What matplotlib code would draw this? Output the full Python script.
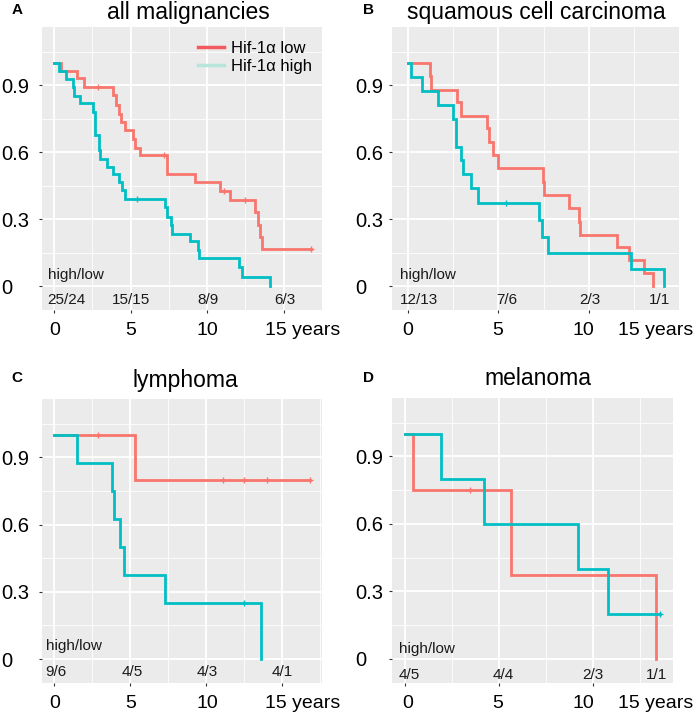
import numpy as np
import matplotlib
matplotlib.use("Agg")
import matplotlib.pyplot as plt
from matplotlib.lines import Line2D

plt.rcParams['font.family'] = ['Liberation Sans', 'DejaVu Sans']

# cores (ggplot)
cor_low = '#F8766D'
cor_high = '#00BFC4'

# ---- A: all malignancies ----
a_low_t = [0.44, 1.50, 1.94, 3.86, 4.01, 4.23, 4.34, 4.62, 5.16, 5.27, 5.60, 7.34, 9.19, 10.83, 11.48, 13.12, 13.33, 13.44, 13.55]
a_low_s = [0.965, 0.93, 0.893, 0.855, 0.81, 0.77, 0.735, 0.70, 0.66, 0.62, 0.585, 0.50, 0.467, 0.427, 0.385, 0.33, 0.273, 0.22, 0.165]
a_low_fim = 16.75
a_low_cens = [2.88, 7.19, 11.09, 12.46, 16.75]
a_high_t = [0.33, 0.76, 1.20, 1.29, 1.68, 2.51, 2.66, 2.92, 2.98, 3.42, 3.86, 4.23, 4.40, 4.62, 7.23, 7.39, 7.60, 7.67, 8.87, 9.41, 9.46, 12.09, 12.24, 14.10]
a_high_s = [0.964, 0.927, 0.89, 0.852, 0.818, 0.78, 0.676, 0.61, 0.57, 0.534, 0.504, 0.467, 0.43, 0.39, 0.355, 0.31, 0.273, 0.233, 0.20, 0.16, 0.124, 0.087, 0.042, 0.0]
a_high_fim = 14.10
a_high_cens = [5.38]
a_risco = ['25/24', '15/15', '8/9', '6/3']
a_risco_x = [0.8, 5.0, 10.07, 15.07]

# ---- B: squamous cell carcinoma ----
b_low_t = [1.20, 1.30, 2.69, 2.93, 4.35, 4.48, 4.72, 5.00, 7.44, 7.54, 8.89, 9.44, 9.50, 11.57, 12.19, 13.06, 13.52]
b_low_s = [0.94, 0.88, 0.825, 0.763, 0.706, 0.646, 0.587, 0.527, 0.467, 0.41, 0.348, 0.288, 0.23, 0.176, 0.116, 0.057, 0.0]
b_low_fim = 13.52
b_low_cens = []
b_high_t = [0.19, 0.80, 1.67, 2.50, 2.65, 2.96, 3.06, 3.46, 3.89, 7.22, 7.41, 7.72, 12.31, 14.17]
b_high_s = [0.936, 0.875, 0.81, 0.75, 0.624, 0.564, 0.504, 0.437, 0.373, 0.296, 0.22, 0.146, 0.075, 0.0]
b_high_fim = 14.17
b_high_cens = [5.41]
b_risco = ['12/13', '7/6', '2/3', '1/1']
b_risco_x = [0.6, 5.46, 10.05, 13.9]

# ---- C: lymphoma ----
c_low_t = [5.33]
c_low_s = [0.80]
c_low_fim = 16.8
c_low_cens = [2.87, 11.1, 12.5, 14.0, 16.8]
c_high_t = [1.49, 3.79, 3.97, 4.34, 4.60, 7.30, 13.60]
c_high_s = [0.875, 0.75, 0.625, 0.5, 0.375, 0.25, 0.0]
c_high_fim = 13.60
c_high_cens = [12.45]
c_risco = ['9/6', '4/5', '4/3', '4/1']
c_risco_x = [0.13, 5.13, 10.04, 15.0]

# ---- D: melanoma ----
d_low_t = [0.41, 5.64, 13.33]
d_low_s = [0.75, 0.375, 0.0]
d_low_fim = 13.33
d_low_cens = [3.46]
d_high_t = [1.90, 4.20, 9.18, 10.80]
d_high_s = [0.8, 0.6, 0.4, 0.2]
d_high_fim = 13.56
d_high_cens = [13.56]
d_risco = ['4/5', '4/4', '2/3', '1/1']
d_risco_x = [0.23, 5.23, 10.0, 13.4]

W, H = 700, 718


def caixa(x0, y0, x1, y1):
    # retangulo em pixels (origem no topo) -> coordenadas da figura
    return [x0 / W, 1 - y1 / H, (x1 - x0) / W, (y1 - y0) / H]


def fpos(x, y):
    return x / W, 1 - y / H


def curva(ax, t, s, fim, cens, cor):
    tx = np.array([0.0] + list(t) + [fim])
    sy = np.array([1.0] + list(s) + [s[-1]])
    ax.plot(tx, sy, drawstyle='steps-post', color=cor, lw=2.0, solid_joinstyle='miter', zorder=3)
    if len(cens):
        idx = np.searchsorted(tx, cens, side='right') - 1
        ax.plot(cens, sy[idx], '+', color=cor, ms=4, mew=1.0, zorder=4)


def painel(ax, xlim, dados, risco, risco_x, risco_y, hl_x, hl_y, ypad):
    ax.set_facecolor('#EBEBEB')
    ax.set_xlim(*xlim)
    ax.set_ylim(-0.107, 1.16)
    ax.set_xticks([v for v in [0, 5, 10, 15] if v < xlim[1]])
    ax.set_xticks([v for v in [2.5, 7.5, 12.5, 17.5] if v < xlim[1]], minor=True)
    ax.set_yticks([0, 0.3, 0.6, 0.9])
    ax.set_yticks([0.15, 0.45, 0.75, 1.05], minor=True)
    ax.set_yticklabels(['0', '0.3', '0.6', '0.9'])
    ax.set_xticklabels([])
    ax.grid(which='major', color='white', lw=1.3)
    ax.grid(which='minor', color='white', lw=0.6)
    ax.set_axisbelow(True)
    ax.tick_params(which='major', length=2.5, width=0.8, color='#333333')
    ax.tick_params(axis='y', labelsize=14.5, pad=ypad)
    ax.tick_params(which='minor', length=0)
    for lb in ax.get_yticklabels():
        lb.set_horizontalalignment('left')
    for sp in ax.spines.values():
        sp.set_visible(False)
    for t, s, fim, cens, cor in dados:
        curva(ax, t, s, fim, cens, cor)
    for lab, x in zip(risco, risco_x):
        ax.text(x, risco_y, lab, ha='center', va='center', fontsize=11, color='#1a1a1a')
    ax.text(hl_x, hl_y, 'high/low', ha='left', va='center', fontsize=11, color='#1a1a1a')


fig = plt.figure(figsize=(W / 100, H / 100), dpi=100)

axA = fig.add_axes(caixa(42, 27, 322, 310))
axB = fig.add_axes(caixa(392, 27, 679, 310))
axC = fig.add_axes(caixa(42, 399, 322, 683))
axD = fig.add_axes(caixa(392, 398, 673, 683))

painel(axA, (-0.80, 17.5),
       [(a_low_t, a_low_s, a_low_fim, a_low_cens, cor_low),
        (a_high_t, a_high_s, a_high_fim, a_high_cens, cor_high)],
       a_risco, a_risco_x, -0.063, -0.44, 0.05, 27.0)
painel(axB, (-0.88, 14.98),
       [(b_low_t, b_low_s, b_low_fim, b_low_cens, cor_low),
        (b_high_t, b_high_s, b_high_fim, b_high_cens, cor_high)],
       b_risco, b_risco_x, -0.063, -0.46, 0.05, 24.0)
painel(axC, (-0.79, 17.6),
       [(c_low_t, c_low_s, c_low_fim, c_low_cens, cor_low),
        (c_high_t, c_high_s, c_high_fim, c_high_cens, cor_high)],
       c_risco, c_risco_x, -0.057, -0.53, 0.058, 27.0)
painel(axD, (-0.69, 14.26),
       [(d_low_t, d_low_s, d_low_fim, d_low_cens, cor_low),
        (d_high_t, d_high_s, d_high_fim, d_high_cens, cor_high)],
       d_risco, d_risco_x, -0.072, -0.30, 0.044, 24.0)

# legenda no painel A
handles = [Line2D([], [], color='#F25A5E', lw=2.5), Line2D([], [], color='#B7E5D9', lw=2.5)]
axA.legend(handles, ['Hif-1\u03b1 low', 'Hif-1\u03b1 high'], loc='upper right',
           bbox_to_anchor=(1.0, 0.985), frameon=False, fontsize=12,
           handlelength=1.6, handletextpad=0.4, labelspacing=0.15, borderaxespad=0.2)

# titulos e letras
titulos = ['all malignancies', 'squamous cell carcinoma', 'lymphoma', 'melanoma']
tit_pos = [(188, 13), (536, 13), (185, 380), (538, 378)]
for tt, (x, y) in zip(titulos, tit_pos):
    fig.text(*fpos(x, y), tt, ha='center', va='center', fontsize=16.5)

letras = ['A', 'B', 'C', 'D']
let_pos = [(17, 10), (369, 10), (17, 378), (368, 378)]
for lt, (x, y) in zip(letras, let_pos):
    fig.text(*fpos(x, y), lt, ha='center', va='center', fontsize=11, fontweight='bold')

# rotulos do eixo x desenhados a mao
anos_A = [(55, '0'), (131, '5'), (207, '10')]
anos_B = [(408, '0'), (498, '5'), (583, '10')]
for lista, y in [(anos_A, 331), (anos_B, 331), (anos_A, 703), (anos_B, 703)]:
    for x, lab in lista:
        fig.text(*fpos(x, y), lab, ha='center', va='center', fontsize=14)
for x, y in [(265, 331), (618, 331), (265, 703), (618, 703)]:
    fig.text(*fpos(x, y), '15 years', ha='left', va='center', fontsize=14)

fig.savefig('out.png', dpi=100)
